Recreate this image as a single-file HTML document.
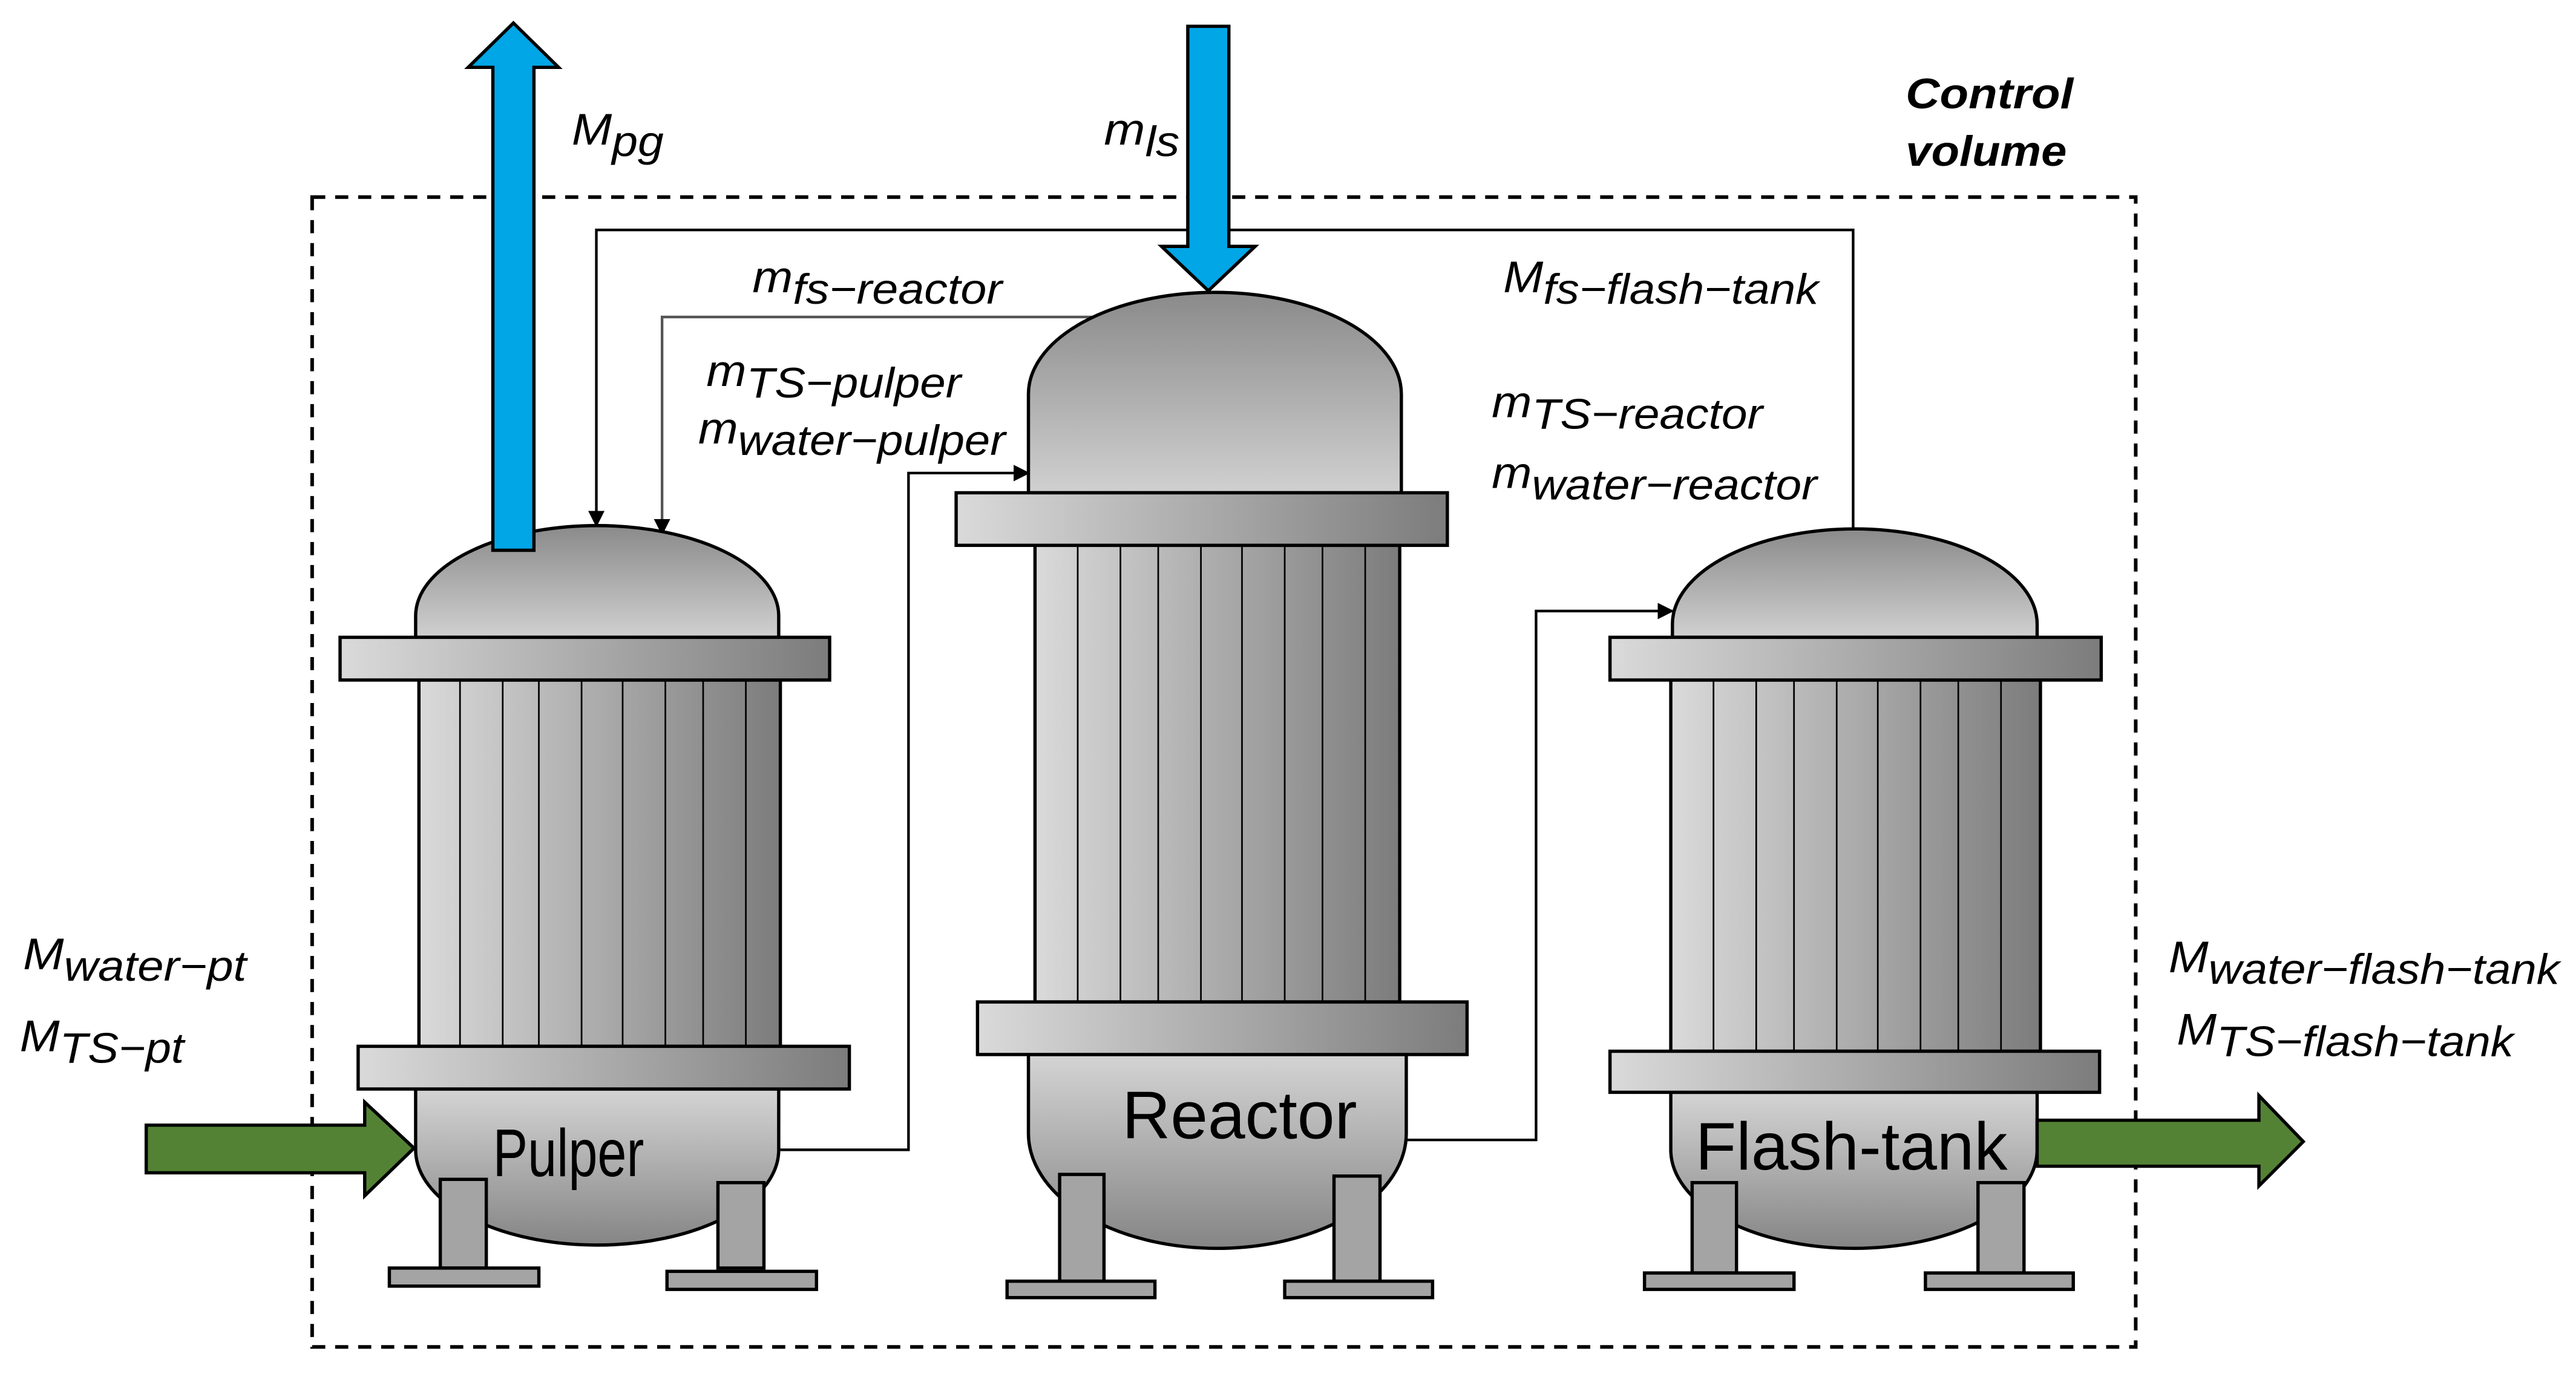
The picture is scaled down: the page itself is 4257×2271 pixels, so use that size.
<!DOCTYPE html>
<html><head><meta charset="utf-8"><style>
html,body{margin:0;padding:0;background:#fff;}
svg{display:block;}
text{font-family:"Liberation Sans",Arial,sans-serif;}
.l{font-style:italic;font-size:27px;}
.s{font-size:26px;}
</style></head><body>
<svg width="4257" height="2271" viewBox="0 0 1568 836.5" preserveAspectRatio="none" xmlns="http://www.w3.org/2000/svg">
<defs>
<linearGradient id="h" x1="0" x2="1" y1="0" y2="0"><stop offset="0" stop-color="#dadada"/><stop offset="1" stop-color="#7c7c7c"/></linearGradient>
<linearGradient id="dome" x1="0" x2="0" y1="0" y2="1"><stop offset="0" stop-color="#8a8a8a"/><stop offset="1" stop-color="#d0d0d0"/></linearGradient>
<linearGradient id="bowl" x1="0" x2="0" y1="0" y2="1"><stop offset="0" stop-color="#d4d4d4"/><stop offset="1" stop-color="#858585"/></linearGradient>
<marker id="ar" markerWidth="10" markerHeight="10" refX="9" refY="5" orient="auto" markerUnits="userSpaceOnUse"><path d="M0,0 L10,5 L0,10 Z" fill="#000"/></marker>
</defs>
<g fill="none" stroke="#000" stroke-width="2.2" stroke-dasharray="8,6"><rect x="190" y="120" width="1110" height="700"/></g>

<g fill="none" stroke="#000" stroke-width="1.6">
<polyline points="1128,322 1128,140 363,140 363,320" marker-end="url(#ar)"/>
<polyline points="665,193 403,193 403,325" stroke="#555" marker-end="url(#ar)"/>
<polyline points="475,700 553,700 553,288 626,288" marker-end="url(#ar)"/>
<polyline points="856,694 935,694 935,372 1018,372" marker-end="url(#ar)"/>
</g>

<g stroke="#000" stroke-width="2">
<path d="M253,388 L253,375 A110.5,55 0 0 1 474,375 L474,388 Z" fill="url(#dome)"/>
<rect x="255" y="414" width="220" height="223" fill="url(#h)"/>
<g stroke-width="1"><line x1="280" y1="414" x2="280" y2="637"/><line x1="306" y1="414" x2="306" y2="637"/><line x1="328" y1="414" x2="328" y2="637"/><line x1="354" y1="414" x2="354" y2="637"/><line x1="379" y1="414" x2="379" y2="637"/><line x1="405" y1="414" x2="405" y2="637"/><line x1="428" y1="414" x2="428" y2="637"/><line x1="454" y1="414" x2="454" y2="637"/></g>
<rect x="207" y="388" width="298" height="26" fill="url(#h)"/>
<path d="M253,663 L253,700 A110.5,58 0 0 0 474,700 L474,663 Z" fill="url(#bowl)"/>
<rect x="218" y="637" width="299" height="26" fill="url(#h)"/>
<rect x="268" y="718" width="28" height="54" fill="#a4a4a4"/><rect x="237" y="772" width="91" height="11" fill="#a4a4a4"/>
<rect x="437" y="720" width="28" height="52" fill="#a4a4a4"/><rect x="406" y="774" width="91" height="11" fill="#a4a4a4"/>

<path d="M626,300 L626,240 A113.5,62 0 0 1 853,240 L853,300 Z" fill="url(#dome)"/>
<rect x="630" y="332" width="222" height="278" fill="url(#h)"/>
<g stroke-width="1"><line x1="656" y1="332" x2="656" y2="610"/><line x1="682" y1="332" x2="682" y2="610"/><line x1="705" y1="332" x2="705" y2="610"/><line x1="731" y1="332" x2="731" y2="610"/><line x1="756" y1="332" x2="756" y2="610"/><line x1="782" y1="332" x2="782" y2="610"/><line x1="805" y1="332" x2="805" y2="610"/><line x1="831" y1="332" x2="831" y2="610"/></g>
<rect x="582" y="300" width="299" height="32" fill="url(#h)"/>
<path d="M626,642 L626,690 A115,70 0 0 0 856,690 L856,642 Z" fill="url(#bowl)"/>
<rect x="595" y="610" width="298" height="32" fill="url(#h)"/>
<rect x="645" y="715" width="27" height="65" fill="#a4a4a4"/><rect x="613" y="780" width="90" height="10" fill="#a4a4a4"/>
<rect x="812" y="716" width="28" height="64" fill="#a4a4a4"/><rect x="782" y="780" width="90" height="10" fill="#a4a4a4"/>

<path d="M1018,388 L1018,380 A111,58 0 0 1 1240,380 L1240,388 Z" fill="url(#dome)"/>
<rect x="1017" y="414" width="225" height="226" fill="url(#h)"/>
<g stroke-width="1"><line x1="1043" y1="414" x2="1043" y2="640"/><line x1="1069" y1="414" x2="1069" y2="640"/><line x1="1092" y1="414" x2="1092" y2="640"/><line x1="1118" y1="414" x2="1118" y2="640"/><line x1="1143" y1="414" x2="1143" y2="640"/><line x1="1169" y1="414" x2="1169" y2="640"/><line x1="1192" y1="414" x2="1192" y2="640"/><line x1="1218" y1="414" x2="1218" y2="640"/></g>
<rect x="980" y="388" width="299" height="26" fill="url(#h)"/>
<path d="M1017,665 L1017,700 A111.5,60 0 0 0 1240,700 L1240,665 Z" fill="url(#bowl)"/>
<rect x="980" y="640" width="298" height="25" fill="url(#h)"/>
<rect x="1030" y="720" width="27" height="55" fill="#a4a4a4"/><rect x="1001" y="775" width="91" height="10" fill="#a4a4a4"/>
<rect x="1204" y="720" width="28" height="55" fill="#a4a4a4"/><rect x="1172" y="775" width="90" height="10" fill="#a4a4a4"/>

<path d="M300,335 L300,41 L285,41 L312.5,14 L340,41 L325,41 L325,335 Z" fill="#00a6e6"/>
<path d="M723,16 L748,16 L748,150 L764,150 L735.5,177 L707,150 L723,150 Z" fill="#00a6e6"/>
<path d="M89,685 L222,685 L222,671 L252,699 L222,728 L222,714 L89,714 Z" fill="#548235"/>
<path d="M1240,682 L1375,682 L1375,667 L1402,695 L1375,722 L1375,710 L1240,710 Z" fill="#548235"/>
</g>

<text x="300" y="716" font-size="41" textLength="92" lengthAdjust="spacingAndGlyphs">Pulper</text>
<text x="683" y="693" font-size="41" textLength="143" lengthAdjust="spacingAndGlyphs">Reactor</text>
<text x="1032" y="712" font-size="41" textLength="190" lengthAdjust="spacingAndGlyphs">Flash-tank</text>

<text x="1160" y="66" font-size="26" font-weight="bold" font-style="italic" textLength="102" lengthAdjust="spacingAndGlyphs">Control</text>
<text x="1160" y="101" font-size="26" font-weight="bold" font-style="italic" textLength="98" lengthAdjust="spacingAndGlyphs">volume</text>

<text class="l" x="348" y="88" textLength="56" lengthAdjust="spacingAndGlyphs">M<tspan class="s" dy="7">pg</tspan></text>
<text class="l" x="672" y="88" textLength="46" lengthAdjust="spacingAndGlyphs">m<tspan class="s" dy="7">ls</tspan></text>
<text class="l" x="458" y="178" textLength="152" lengthAdjust="spacingAndGlyphs">m<tspan class="s" dy="7">fs−reactor</tspan></text>
<text class="l" x="430" y="235" textLength="155" lengthAdjust="spacingAndGlyphs">m<tspan class="s" dy="7">TS−pulper</tspan></text>
<text class="l" x="425" y="270" textLength="187" lengthAdjust="spacingAndGlyphs">m<tspan class="s" dy="7">water−pulper</tspan></text>
<text class="l" x="915" y="178" textLength="192" lengthAdjust="spacingAndGlyphs">M<tspan class="s" dy="7">fs−flash−tank</tspan></text>
<text class="l" x="908" y="254" textLength="165" lengthAdjust="spacingAndGlyphs">m<tspan class="s" dy="7">TS−reactor</tspan></text>
<text class="l" x="908" y="297" textLength="198" lengthAdjust="spacingAndGlyphs">m<tspan class="s" dy="7">water−reactor</tspan></text>
<text class="l" x="14" y="590" textLength="136" lengthAdjust="spacingAndGlyphs">M<tspan class="s" dy="7">water−pt</tspan></text>
<text class="l" x="12" y="640" textLength="100" lengthAdjust="spacingAndGlyphs">M<tspan class="s" dy="7">TS−pt</tspan></text>
<text class="l" x="1320" y="592" textLength="238" lengthAdjust="spacingAndGlyphs">M<tspan class="s" dy="7">water−flash−tank</tspan></text>
<text class="l" x="1325" y="636" textLength="205" lengthAdjust="spacingAndGlyphs">M<tspan class="s" dy="7">TS−flash−tank</tspan></text>
</svg>
</body></html>
